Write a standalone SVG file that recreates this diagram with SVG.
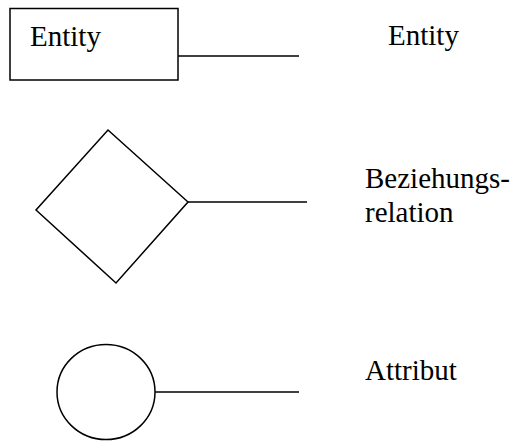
<svg xmlns="http://www.w3.org/2000/svg" width="515" height="441" viewBox="0 0 515 441">
<style>
.s{fill:#fff;stroke:#000;stroke-width:1.5}
.c{fill:none;stroke:#000;stroke-width:1.5}
text{font-family:"Liberation Serif","Times New Roman",serif;font-size:29px;fill:#000}
</style>
<rect width="515" height="441" fill="#fff"/>
<g id="connectors">
<line class="c" x1="178" y1="56" x2="299" y2="56"/>
<line class="c" x1="188" y1="202" x2="307" y2="202"/>
<line class="c" x1="155" y1="392" x2="299" y2="392"/>
</g>
<g id="entity">
<rect class="s" x="10" y="8.5" width="168" height="71.5"/>
<text x="30" y="46">Entity</text>
</g>
<g id="relation">
<polygon class="s" points="108,130 188,202 116,283 36,210"/>
</g>
<g id="attribut">
<ellipse class="s" cx="106" cy="392" rx="49" ry="47.5"/>
</g>
<g id="labels">
<text x="388" y="45">Entity</text>
<text x="365" y="188">Beziehungs-</text>
<text x="365" y="222">relation</text>
<text x="365" y="380">Attribut</text>
</g>
</svg>
